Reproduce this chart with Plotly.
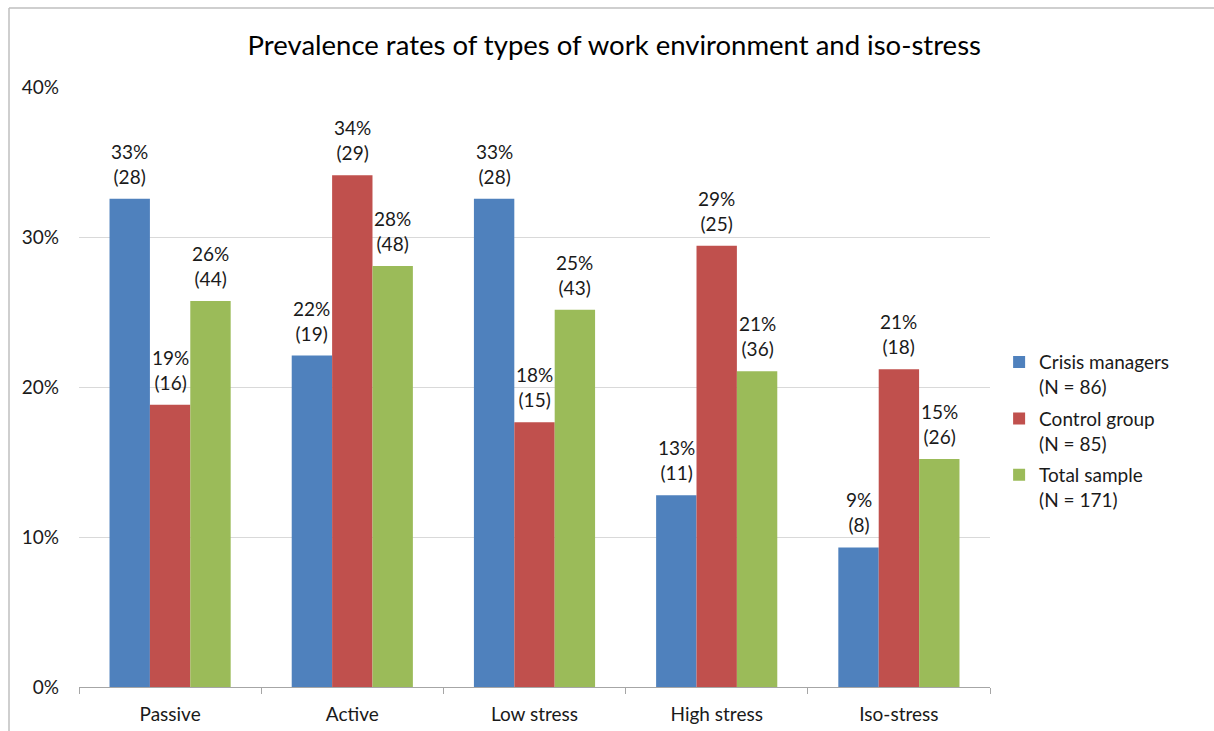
import plotly.graph_objects as go

# Work-environment categories on the x axis
categories = ["Passive", "Active", "Low stress", "High stress", "Iso-stress"]

# Group sizes
n_crisis = 86
n_control = 85
n_total = 171

# Number of people per category in each group
crisis_counts = [28, 19, 28, 11, 8]
control_counts = [16, 29, 15, 25, 18]
total_counts = [44, 48, 43, 36, 26]

series = [
    ("Crisis managers<br>(N = 86)", crisis_counts, n_crisis, "#4F81BD"),
    ("Control group<br>(N = 85)", control_counts, n_control, "#C0504D"),
    ("Total sample<br>(N = 171)", total_counts, n_total, "#9BBB59"),
]

FONT = "Lato"
TEXT_COLOR = "#1a1a1a"
LABEL_SIZE = 19

# Plot-area geometry (pixels)
MARGIN_L, MARGIN_R, MARGIN_T, MARGIN_B = 79, 224, 87, 44
WIDTH, HEIGHT = 1214, 731
BARGAP = 0.335
plot_w = WIDTH - MARGIN_L - MARGIN_R
plot_h = HEIGHT - MARGIN_T - MARGIN_B
band_px = plot_w / len(categories)
bar_px = band_px * (1 - BARGAP) / len(series)

fig = go.Figure()
for i, (name, counts, n, color) in enumerate(series):
    shares = [c / n for c in counts]
    fig.add_trace(go.Bar(
        name=name,
        legendgroup=f"g{i}",
        x=categories,
        y=shares,
        marker=dict(color=color, line=dict(width=0)),
        hoverinfo="skip",
    ))
    # Value labels: rounded percentage and count, above each bar
    shift = (i - (len(series) - 1) / 2) * bar_px
    for cat, s, c in zip(categories, shares, counts):
        fig.add_annotation(
            x=cat, y=s, xref="x", yref="y",
            text=f"{round(s * 100):.0f}%<br>({c})",
            showarrow=False,
            xanchor="center", yanchor="bottom",
            xshift=shift, yshift=9,
            font=dict(family=FONT, size=LABEL_SIZE, color=TEXT_COLOR),
        )

fig.update_layout(
    width=WIDTH,
    height=HEIGHT,
    margin=dict(l=MARGIN_L, r=MARGIN_R, t=MARGIN_T, b=MARGIN_B, autoexpand=False),
    paper_bgcolor="white",
    plot_bgcolor="white",
    barmode="group",
    bargap=BARGAP,
    bargroupgap=0,
    font=dict(family=FONT, size=LABEL_SIZE, color=TEXT_COLOR),
    title=dict(
        text="Prevalence rates of types of work environment and iso-stress",
        x=0.506, xref="container", xanchor="center",
        y=0.938, yref="container", yanchor="middle",
        font=dict(family=FONT, size=27.5, color="#000000"),
    ),
    showlegend=True,
    legend=dict(
        x=1.01, xanchor="left",
        y=0.573, yanchor="top",
        valign="top",
        font=dict(family=FONT, size=LABEL_SIZE, color=TEXT_COLOR),
        tracegroupgap=4,
        bgcolor="rgba(0,0,0,0)",
    ),
    xaxis=dict(
        automargin=False,
        showline=True,
        linecolor="#a6a6a6",
        linewidth=1,
        ticks="outside",
        ticklen=6,
        tickcolor="#a6a6a6",
        tickson="boundaries",
        showgrid=False,
        ticklabelstandoff=10,
        tickfont=dict(family=FONT, size=LABEL_SIZE, color=TEXT_COLOR),
    ),
    yaxis=dict(
        automargin=False,
        range=[0, 0.4],
        dtick=0.1,
        tickformat=".0%",
        showgrid=True,
        gridcolor="#d9d9d9",
        gridwidth=1,
        zeroline=False,
        showline=False,
        ticks="",
        ticklabelstandoff=19,
        tickfont=dict(family=FONT, size=LABEL_SIZE, color=TEXT_COLOR),
    ),
)

# Outer chart frame (top and left edges)
frame_color = "#bfbfbf"
frame_top = 1 + (MARGIN_T - 8) / plot_h
frame_left = (9 - MARGIN_L) / plot_w
fig.add_shape(type="line", xref="paper", yref="paper",
              x0=frame_left, x1=(WIDTH - MARGIN_L) / plot_w,
              y0=frame_top, y1=frame_top,
              line=dict(color=frame_color, width=1.5))
fig.add_shape(type="line", xref="paper", yref="paper",
              x0=frame_left, x1=frame_left,
              y0=frame_top, y1=-MARGIN_B / plot_h,
              line=dict(color=frame_color, width=1.5))

fig.write_html("out.html")
